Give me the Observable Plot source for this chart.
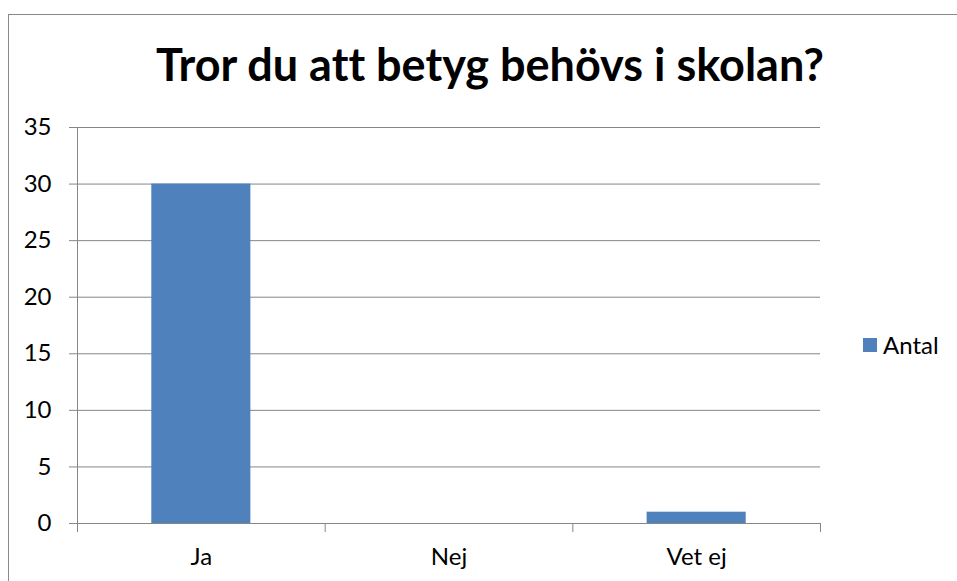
<!DOCTYPE html>
<html>
<head>
<meta charset="utf-8">
<script src="https://cdn.jsdelivr.net/npm/d3@7"></script>
<script src="https://cdn.jsdelivr.net/npm/@observablehq/plot@0.6"></script>
<style>
  html, body { margin: 0; padding: 0; background: #fff; overflow: hidden; }
  #wrap { position: relative; width: 957px; height: 581px; font-family: Lato, "Open Sans", sans-serif; font-variant-ligatures: none; }
  #border { position: absolute; left: 8px; top: 14px; width: 1200px; height: 1200px; border: 1px solid #8a8a8a; box-sizing: border-box; }
  #title { position: relative; height: 110px; width: 957px; box-sizing: border-box; padding-left: 23px; text-align: center;
           font-weight: 700; font-size: 45px; line-height: 1; padding-top: 42px; color: #000; }
  #legend { position: absolute; left: 863px; top: 330px; display: flex; align-items: center; font-size: 24px; color: #000; }
  #legend .sw { width: 14px; height: 14px; background: #4F81BD; margin-right: 6px; }
  #chart { position: relative; }
  #chart svg text { font-variant-ligatures: none; }
</style>
</head>
<body>
<div id="wrap">
  <div id="border"></div>
  <div id="title">Tror du att betyg behövs i skolan?</div>
  <div id="chart"></div>
  <div id="legend"><div class="sw"></div><span>Antal</span></div>
</div>
<script>
const categories = ["Ja", "Nej", "Vet ej"];
const antal = [30, 0, 1];
const yTicks = [0, 5, 10, 15, 20, 25, 30, 35];
const seriesName = "Antal";

const data = categories.map((c, i) => ({category: c, index: i, value: antal[i]}));
const axisColor = "#868686";

const chart = Plot.plot({
  width: 957,
  height: 471,
  marginLeft: 77,
  marginRight: 137,
  marginTop: 17,
  marginBottom: 58,
  style: {fontFamily: "Lato, 'Open Sans', sans-serif", fontSize: "24px", color: "#000", background: "transparent"},
  x: {type: "linear", domain: [0, categories.length]},
  y: {domain: [0, 35]},
  marks: [
    Plot.gridY(yTicks, {stroke: axisColor, strokeOpacity: 1, strokeWidth: 1}),
    Plot.axisY({ticks: yTicks, tickSize: 8, tickPadding: 18, stroke: axisColor, fill: "#000", label: null, fontSize: 24}),
    Plot.rectY(data, {x1: d => d.index + 0.3, x2: d => d.index + 0.7, y1: 0, y2: "value", fill: "#4F81BD"}),
    Plot.ruleX([0], {stroke: axisColor}),
    Plot.ruleY([0], {stroke: axisColor}),
    Plot.axisX({ticks: d3.range(categories.length + 1), tickSize: 9, tickFormat: () => "", stroke: axisColor, label: null}),
    Plot.axisX({ticks: categories.map((c, i) => i + 0.5), tickSize: 0, tickPadding: 24,
                tickFormat: d => categories[Math.floor(d)], fill: "#000", label: null, fontSize: 24})
  ]
});
document.getElementById("chart").appendChild(chart);
</script>
</body>
</html>
